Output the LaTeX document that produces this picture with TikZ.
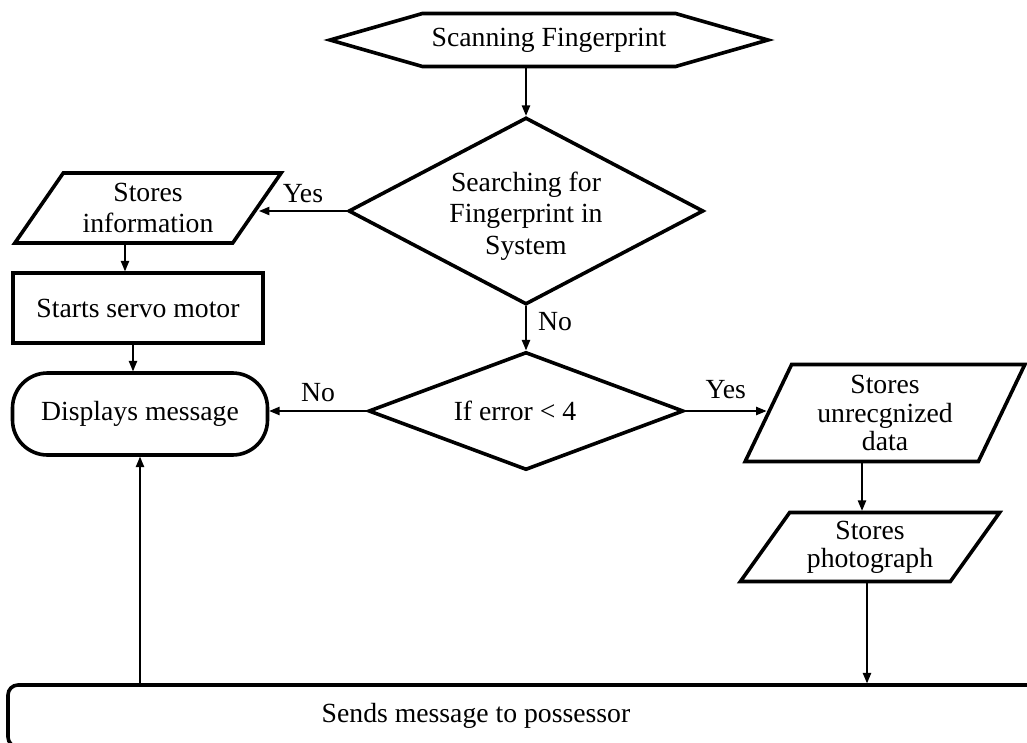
\documentclass[tikz,border=0pt]{standalone}
\usepackage{fontspec}
\setmainfont{Liberation Serif}
\usetikzlibrary{arrows}
\usetikzlibrary{shapes.geometric}
\usetikzlibrary{shapes.symbols}

\begin{document}
\begin{tikzpicture}[line cap=round,line join=round,>=triangle 45,x=1pt,y=-1pt,
  font=\fontsize{27.7pt}{31pt}\selectfont,
  box/.style={draw,line width=3.6pt,line join=miter,inner sep=0pt,align=center},
  slant/.style={box,trapezium,trapezium stretches=true},
  conn/.style={->,line width=1.4pt}]
\clip (0,0) rectangle (1027,743);

%blokit
\node [box,signal,signal to=west and east,signal pointer angle=32,
  minimum width=438,minimum height=53] (scan) at (549,40) {Scanning Fingerprint};
\node [box,diamond,aspect=1.9,minimum width=355,minimum height=187]
  (search) at (526,211) {\rule{0pt}{29pt}Searching for\\[0.5pt]Fingerprint in\\[0.5pt]System};
\node [slant,trapezium left angle=53,trapezium right angle=127,
  minimum width=267,minimum height=70] (info) at (148,208) {Stores\\information};
\node [box,minimum width=250,minimum height=70] (servo) at (138,308) {Starts servo motor};
\node [box,rounded corners=35pt,minimum width=255,minimum height=82]
  (disp) at (140,414) {Displays message};
\node [box,diamond,aspect=2.67,minimum width=315,minimum height=118]
  (err) at (526,411) {\hspace*{-22pt}If error < 4};
\node [slant,trapezium left angle=66,trapezium right angle=114,
  minimum width=280,minimum height=97,font=\fontsize{27.7pt}{28.5pt}\selectfont]
  (unrec) at (885,413) {Stores\\unrecgnized\\data};
\node [slant,trapezium left angle=53.5,trapezium right angle=126.5,
  minimum width=260,minimum height=69,font=\fontsize{27.7pt}{28pt}\selectfont]
  (photo) at (870,547) {Stores\\photograph};
\node [box,rounded corners=10pt,minimum width=1052,minimum height=62]
  (send) at (534,716) {\hspace*{-116pt}Sends message to possessor};

%nuolet
\draw [conn] (scan.south -| search.north) -- (search.north);
\draw [conn] (search.west) -- node [above,yshift=4pt] (yes1) {Yes} (search.west -| info.east);
\draw [conn] (info.south -| 125,0) -- (servo.north -| 125,0);
\draw [conn] (servo.south -| 133,0) -- (disp.north -| 133,0);
\draw [conn] (search.south) -- node [right,pos=0.35,xshift=8pt] (no1) {No} (err.north);
\draw [conn] (err.west) -- node [above,yshift=5pt] (no2) {No} (err.west -| disp.east);
\draw [conn] (err.east) -- node [above,yshift=8pt] (yes2) {Yes} (err.east -| unrec.west);
\draw [conn] (unrec.south -| 862,0) -- (photo.north -| 862,0);
\draw [conn] (photo.south -| 867,0) -- (send.north -| 867,0);
\draw [conn] (send.north -| disp.south) -- (disp.south);
\end{tikzpicture}
\end{document}
